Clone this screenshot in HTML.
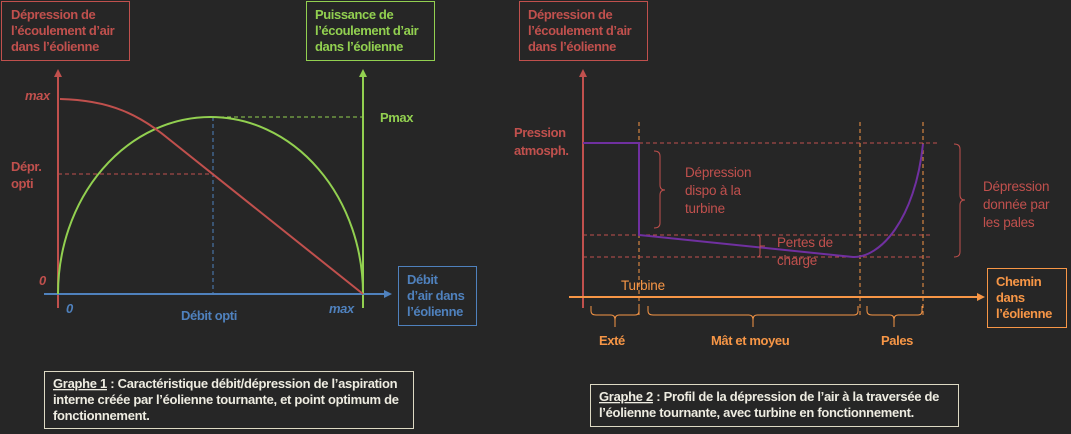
<!DOCTYPE html>
<html><head><meta charset="utf-8"><style>
html,body{margin:0;padding:0;background:#262626;}
svg{display:block;}
text{font-family:"Liberation Sans",sans-serif;font-weight:bold;font-size:13px;letter-spacing:-0.4px;}
text.n{font-weight:normal;font-size:13.5px;letter-spacing:-0.2px;}
text.c{font-size:13px;letter-spacing:-0.3px;}
</style></head><body>
<svg width="1071" height="434" viewBox="0 0 1071 434" xmlns="http://www.w3.org/2000/svg">
<rect width="1071" height="434" fill="#262626"/>
<defs>
<marker id="ar" markerWidth="8" markerHeight="8" refX="6" refY="4" orient="auto" markerUnits="userSpaceOnUse"><path d="M0,0 L8,4 L0,8 Z" fill="#c0504d"/></marker>
<marker id="ag" markerWidth="8" markerHeight="8" refX="6" refY="4" orient="auto" markerUnits="userSpaceOnUse"><path d="M0,0 L8,4 L0,8 Z" fill="#92d050"/></marker>
<marker id="ab" markerWidth="8" markerHeight="8" refX="6" refY="4" orient="auto" markerUnits="userSpaceOnUse"><path d="M0,0 L8,4 L0,8 Z" fill="#4f81bd"/></marker>
<marker id="ao" markerWidth="8" markerHeight="8" refX="6" refY="4" orient="auto" markerUnits="userSpaceOnUse"><path d="M0,0 L8,4 L0,8 Z" fill="#f79646"/></marker>
</defs>

<!-- GRAPH 1 -->
<rect x="1.5" y="1.5" width="128" height="59" fill="none" stroke="#c0504d" stroke-width="1"/>
<text fill="#c0504d" x="11" y="19">Dépression de</text>
<text fill="#c0504d" x="11" y="35">l’écoulement d’air</text>
<text fill="#c0504d" x="11" y="51">dans l’éolienne</text>

<rect x="306.5" y="1.5" width="128" height="59" fill="none" stroke="#92d050" stroke-width="1"/>
<text fill="#92d050" x="315" y="19">Puissance de</text>
<text fill="#92d050" x="315" y="35">l’écoulement d’air</text>
<text fill="#92d050" x="315" y="51">dans l’éolienne</text>

<line x1="58" y1="308" x2="58" y2="71" stroke="#c0504d" stroke-width="2" marker-end="url(#ar)"/>
<line x1="363" y1="308" x2="363" y2="71" stroke="#92d050" stroke-width="2" marker-end="url(#ag)"/>
<line x1="44" y1="294" x2="390" y2="294" stroke="#4f81bd" stroke-width="2" marker-end="url(#ab)"/>

<line x1="58" y1="174" x2="213" y2="174" stroke="#c0504d" stroke-width="1" stroke-dasharray="4,3"/>
<line x1="213" y1="117" x2="363" y2="117" stroke="#92d050" stroke-width="1" stroke-dasharray="4,3"/>
<line x1="213" y1="117" x2="213" y2="294" stroke="#4f81bd" stroke-width="1" stroke-dasharray="4,3"/>

<path d="M58,294 A152.5,177 0 0 1 363,294" fill="none" stroke="#92d050" stroke-width="2"/>
<path d="M60,99 C110,100 140,115 170,140 L363,294" fill="none" stroke="#c0504d" stroke-width="2"/>

<text fill="#c0504d" x="25" y="100" font-style="italic">max</text>
<text fill="#c0504d" x="11" y="171">Dépr.</text>
<text fill="#c0504d" x="11" y="188">opti</text>
<text fill="#c0504d" x="39" y="285" font-style="italic">0</text>
<text fill="#4f81bd" x="66" y="313" font-style="italic">0</text>
<text fill="#4f81bd" x="329" y="313" font-style="italic">max</text>
<text fill="#4f81bd" x="181" y="320">Débit opti</text>
<text fill="#92d050" x="380" y="122">Pmax</text>

<rect x="398.5" y="266.5" width="78" height="59" fill="none" stroke="#4f81bd" stroke-width="1"/>
<text fill="#4f81bd" x="407" y="284">Débit</text>
<text fill="#4f81bd" x="407" y="300">d’air dans</text>
<text fill="#4f81bd" x="407" y="316">l’éolienne</text>

<rect x="44.5" y="371.5" width="369" height="57" fill="none" stroke="#ddd9c3" stroke-width="1"/>
<text class="c" fill="#eeece1" x="53" y="388"><tspan text-decoration="underline">Graphe 1</tspan> : Caractéristique débit/dépression de l’aspiration</text>
<text class="c" fill="#eeece1" x="53" y="404">interne créée par l’éolienne tournante, et point optimum de</text>
<text class="c" fill="#eeece1" x="53" y="420">fonctionnement.</text>

<!-- GRAPH 2 -->
<rect x="519.5" y="1.5" width="128" height="59" fill="none" stroke="#c0504d" stroke-width="1"/>
<text fill="#c0504d" x="528" y="19">Dépression de</text>
<text fill="#c0504d" x="528" y="35">l’écoulement d’air</text>
<text fill="#c0504d" x="528" y="51">dans l’éolienne</text>

<line x1="583" y1="308" x2="583" y2="71" stroke="#c0504d" stroke-width="2" marker-end="url(#ar)"/>
<line x1="569" y1="297" x2="983" y2="297" stroke="#f79646" stroke-width="2" marker-end="url(#ao)"/>

<g stroke="#f79646" stroke-width="1" stroke-dasharray="4,3">
<line x1="639" y1="122" x2="639" y2="318"/>
<line x1="860" y1="122" x2="860" y2="318"/>
<line x1="923" y1="122" x2="923" y2="318"/>
</g>
<g stroke="#c0504d" stroke-width="1" stroke-dasharray="4,3">
<line x1="583" y1="143" x2="939" y2="143"/>
<line x1="583" y1="235" x2="932" y2="235"/>
<line x1="583" y1="257" x2="932" y2="257"/>
</g>

<path d="M583,143 L639,143 L639,235 L853,257 C880,258 915,220 923,144" fill="none" stroke="#7030a0" stroke-width="2"/>

<text fill="#c0504d" x="514" y="137">Pression</text>
<text fill="#c0504d" x="514" y="155">atmosph.</text>

<g fill="none" stroke="#c0504d" stroke-width="1">
<path d="M654,151 Q660,151 660,156 L660,185 Q660,190 665,190 Q660,190 660,195 L660,223 Q660,228 654,228"/>
<path d="M757,235 Q760,235 760,238 L760,246 L765,246 L760,246 L760,254 Q760,257 757,257"/>
<path d="M954,144 Q960,144 960,149 L960,195 Q960,200 965,200 Q960,200 960,205 L960,252 Q960,257 954,257"/>
</g>
<text class="n" fill="#c0504d" x="685" y="177">Dépression</text>
<text class="n" fill="#c0504d" x="685" y="195">dispo à la</text>
<text class="n" fill="#c0504d" x="685" y="213">turbine</text>
<text class="n" fill="#c0504d" x="777" y="247">Pertes de</text>
<text class="n" fill="#c0504d" x="777" y="265">charge</text>
<text class="n" fill="#c0504d" x="983" y="191">Dépression</text>
<text class="n" fill="#c0504d" x="983" y="209">donnée par</text>
<text class="n" fill="#c0504d" x="983" y="227">les pales</text>
<text class="n" fill="#f79646" x="621" y="290">Turbine</text>

<g fill="none" stroke="#f79646" stroke-width="1">
<path d="M591,306 L591,311 Q591,315 596,315 L611,315 Q615,315 615,320 L615,327 L615,320 Q615,315 619,315 L635,315 Q639,315 639,311 L639,306"/>
<path d="M648,306 L648,311 Q648,315 653,315 L749,315 Q753,315 753,320 L753,327 L753,320 Q753,315 757,315 L854,315 Q858,315 858,311 L858,306"/>
<path d="M867,306 L867,311 Q867,315 872,315 L890,315 Q894,315 894,320 L894,327 L894,320 Q894,315 898,315 L918,315 Q922,315 922,311 L922,306"/>
</g>
<text fill="#f79646" x="599" y="345">Exté</text>
<text fill="#f79646" x="711" y="345">Mât et moyeu</text>
<text fill="#f79646" x="881" y="345">Pales</text>

<rect x="987.5" y="268.5" width="79" height="59" fill="none" stroke="#f79646" stroke-width="1"/>
<text fill="#f79646" x="996" y="286">Chemin</text>
<text fill="#f79646" x="996" y="302">dans</text>
<text fill="#f79646" x="996" y="318">l’éolienne</text>

<rect x="590.5" y="384.5" width="368" height="42" fill="none" stroke="#ddd9c3" stroke-width="1"/>
<text class="c" fill="#eeece1" x="599" y="401"><tspan text-decoration="underline">Graphe 2</tspan> : Profil de la dépression de l’air à la traversée de</text>
<text class="c" fill="#eeece1" x="599" y="417">l’éolienne tournante, avec turbine en fonctionnement.</text>
</svg>
</body></html>
